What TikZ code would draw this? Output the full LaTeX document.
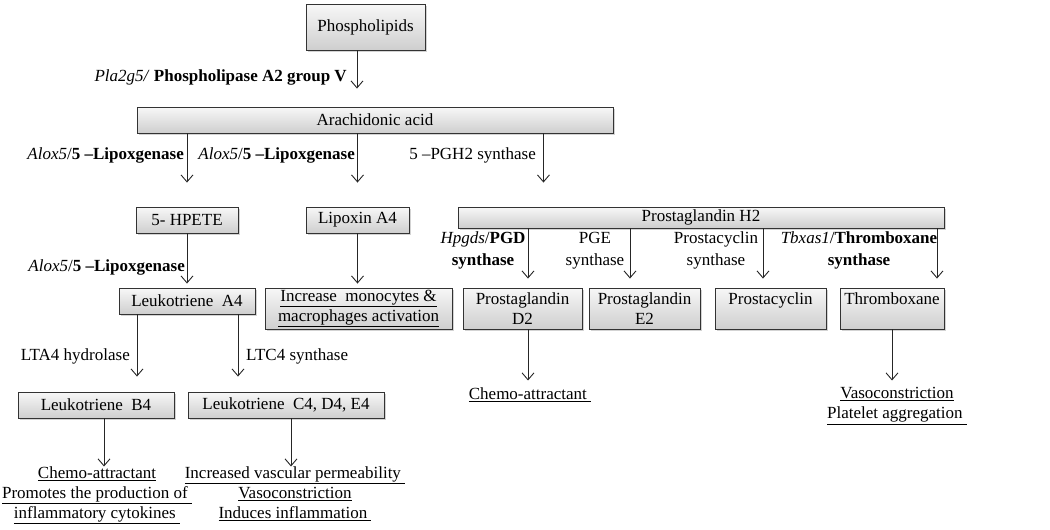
\documentclass[tikz,border=0pt]{standalone}
\usepackage{fontspec}
\setmainfont{Liberation Serif}
\usetikzlibrary{arrows.meta,shadows}

\begin{document}
\begin{tikzpicture}[x=1pt, y=-1pt,
  font=\fontsize{17}{20}\selectfont,
  box/.style = {draw=black!80, line width=0.9pt,
    top color=gray!6, bottom color=gray!38,
    drop shadow={shadow xshift=1.5pt, shadow yshift=-1.5pt, opacity=0.35},
    inner sep=0pt, align=center},
  lbl/.style = {inner sep=0pt},
  fx/.style = {inner sep=0pt, align=center, anchor=north},
  arr/.style = {line width=0.9pt, black!85,
    -{Straight Barb[length=7pt,width=12pt]}}
  ]
  \useasboundingbox (0,0) rectangle (1050,530);

  % boxes
  \node (phos)  [box, minimum width=119pt, minimum height=46pt] at (365.5,27) {Phospholipids};
  \node (arach) [box, minimum width=476pt, minimum height=26pt] at (375,120) {Arachidonic acid};
  \node (hpete) [box, minimum width=102pt, minimum height=26pt] at (187,220) {5- HPETE};
  \node (lipox) [box, minimum width=103pt, minimum height=26pt] at (357.5,220) {Lipoxin A4};
  \node (pgh2)  [box, minimum width=486pt, minimum height=21pt] at (701,217.5) {Prostaglandin H2};
  \node (lta4)  [box, minimum width=136pt, minimum height=26pt] at (187,301) {Leukotriene\ \ A4};
  \node (incr)  [box, minimum width=187pt, minimum height=41pt] at (358.5,308.5)
    {\underline{Increase\ \ monocytes \&}\\\underline{macrophages activation}};
  \node (pgd2)  [box, minimum width=119pt, minimum height=41pt] at (522.5,308.5) {Prostaglandin\\D2};
  \node (pge2)  [box, minimum width=111pt, minimum height=41pt] at (644.5,308.5) {Prostaglandin\\E2};
  \node (pgi2)  [box, minimum width=111pt, minimum height=41pt] at (770.5,308.5) {Prostacyclin\\\mbox{}};
  \node (txa)   [box, minimum width=104pt, minimum height=41pt] at (892,308.5) {Thromboxane\\\mbox{}};
  \node (ltb4)  [box, minimum width=156pt, minimum height=26pt] at (96,405) {Leukotriene\ \ B4};
  \node (ltc4)  [box, minimum width=196pt, minimum height=26pt] at (286,405) {Leukotriene\ \ C4, D4, E4};

  % enzymes
  \node (pla-lbl)  [lbl, anchor=base east] at (347,81) {\textit{Pla2g5/} \textbf{Phospholipase A2 group V}};
  \node (alox-a)   [lbl, anchor=base east] at (184,159) {\textit{Alox5}/\textbf{5 –Lipoxgenase}};
  \node (alox-b)   [lbl, anchor=base east] at (355,159) {\textit{Alox5}/\textbf{5 –Lipoxgenase}};
  \node (pgh-syn)  [lbl, anchor=base east] at (536,159) {5 –PGH2 synthase};
  \node (alox-c)   [lbl, anchor=base east] at (185,271) {\textit{Alox5}/\textbf{5 –Lipoxgenase}};
  \node (lta4-hyd) [lbl, anchor=base east] at (130,360) {LTA4 hydrolase};
  \node (ltc4-syn) [lbl, anchor=base west] at (246,360) {LTC4 synthase};
  \node (pgd-lbl)  [fx] at (483,232) {\textit{Hpgds}/\textbf{PGD}\\[2pt]\textbf{synthase}};
  \node (pge-lbl)  [fx] at (595,232) {PGE\\[2pt]synthase};
  \node (pgi-lbl)  [fx] at (716,232) {Prostacyclin\\[2pt]synthase};
  \node (txa-lbl)  [fx] at (859,232) {\textit{Tbxas1}/\textbf{Thromboxane}\\[2pt]\textbf{synthase}};

  % effects
  \node (ltb4-fx) [fx] at (97,466.5)
    {\underline{Chemo-attractant}\\\underline{Promotes the production of~}\\\underline{inflammatory cytokines~}};
  \node (ltc4-fx) [fx] at (295,466.5)
    {\underline{Increased vascular permeability~}\\\underline{Vasoconstriction}\\\underline{Induces inflammation~}};
  \node (pgd2-fx) [fx] at (530,387.5) {\underline{Chemo-attractant~}};
  \node (txa-fx)  [fx] at (897,387.5) {\underline{Vasoconstriction}\\\underline{Platelet aggregation~}};

  % arrows
  \draw[arr, shorten >=18pt] ([xshift=-8.5pt]phos.south) -- ([xshift=-8.5pt]phos.south |- arach.north);
  \draw[arr, shorten >=24pt] (arach.south -| hpete) -- (hpete.north);
  \draw[arr, shorten >=24pt] (arach.south -| lipox) -- (lipox.north);
  \draw[arr, shorten >=24pt] ([xshift=-70pt]arach.south east) -- ([xshift=-70pt]arach.south east |- pgh2.north);
  \draw[arr, shorten >=4pt] (hpete.south) -- (lta4.north);
  \draw[arr, shorten >=4pt] (lipox.south) -- (lipox.south |- incr.north);
  \foreach \n/\dx in {pgd2/5.5, pge2/-14.5, pgi2/-7.5, txa/45}
    \draw[arr, shorten >=9pt] ([xshift=\dx pt]\n.north |- pgh2.south) -- ([xshift=\dx pt]\n.north);
  \draw[arr, shorten >=15pt] ([xshift=-50pt]lta4.south) -- ([xshift=-50pt]lta4.south |- ltb4.north);
  \draw[arr, shorten >=15pt] ([xshift=51pt]lta4.south) -- ([xshift=51pt]lta4.south |- ltc4.north);
  \draw[arr] ([xshift=8pt]ltb4.south) -- ([xshift=8pt]ltb4.south |- ltb4-fx.north);
  \draw[arr] ([xshift=5pt]ltc4.south) -- ([xshift=5pt]ltc4.south |- ltc4-fx.north);
  \draw[arr, shorten >=7pt] ([xshift=5.5pt]pgd2.south) -- ([xshift=5.5pt]pgd2.south |- pgd2-fx.north);
  \draw[arr, shorten >=7pt] (txa.south) -- (txa.south |- txa-fx.north);
\end{tikzpicture}
\end{document}
